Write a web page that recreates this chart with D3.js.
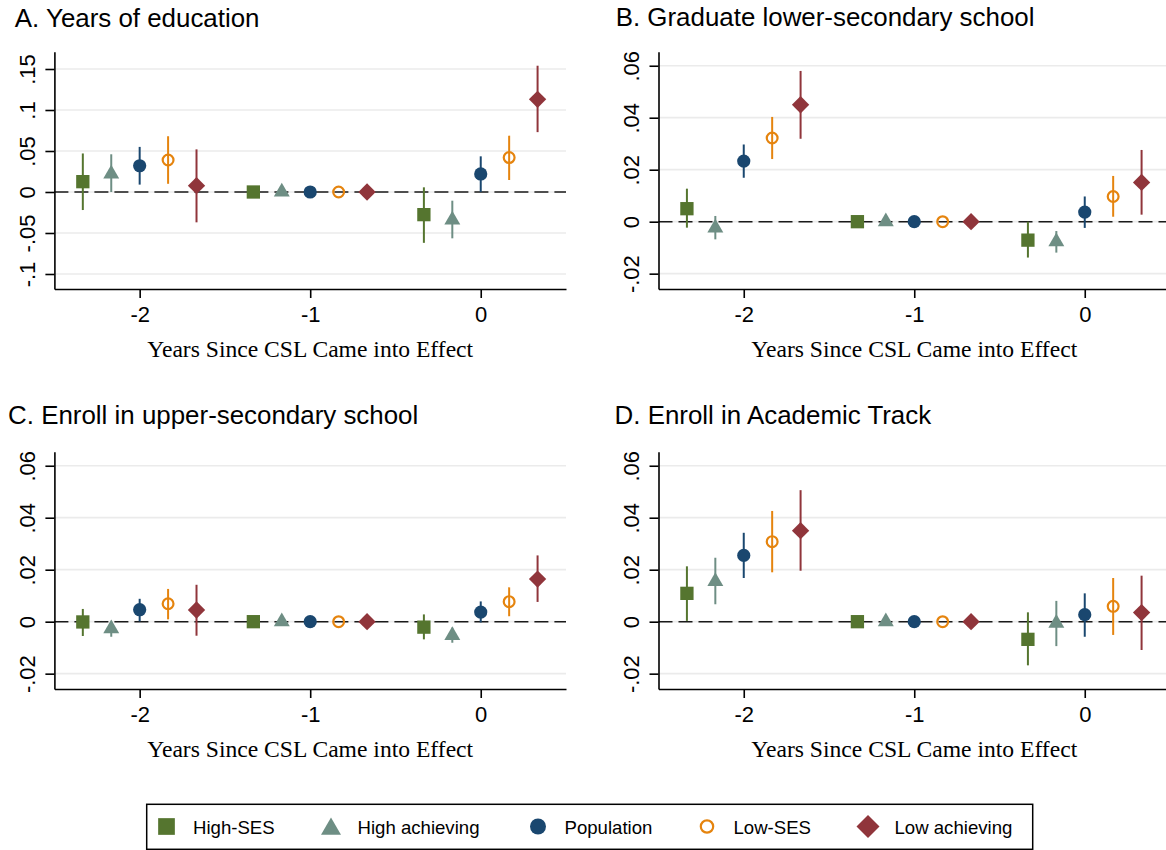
<!DOCTYPE html>
<html>
<head>
<meta charset="utf-8">
<script src="https://cdn.jsdelivr.net/npm/d3@7"></script>
<style>
body { margin: 0; background: #fff; }
svg { display: block; font-family: "Liberation Sans", Arial, Helvetica, sans-serif; }
</style>
</head>
<body>
<svg width="1166" height="850"></svg>
<script>
const svg = d3.select("svg");

const width = 1166;
const height = 850;

// groups in legend order, years on the x axis
const groups = ["High-SES", "High achieving", "Population", "Low-SES", "Low achieving"];
const years = [-2, -1, 0];

const panelTitles = [
    "A. Years of education",
    "B. Graduate lower-secondary school",
    "C. Enroll in upper-secondary school",
    "D. Enroll in Academic Track",
];
const axisTitle = "Years Since CSL Came into Effect";
const xTicks = [-2, -1, 0];
const yTicksA = [-0.1, -0.05, 0, 0.05, 0.1, 0.15];
const yTicksBCD = [-0.02, 0, 0.02, 0.04, 0.06];

// one row per group, one column per year (-2, -1, 0); -1 is the reference year
const eduEst = [[0.0126, 0, -0.0276], [0.022, 0, -0.034], [0.032, 0, 0.022], [0.039, 0, 0.042], [0.0077, 0, 0.113]];
const eduLo  = [[-0.022, null, -0.062], [0.0, null, -0.0565], [0.009, null, 0.0], [0.010, null, 0.0146], [-0.037, null, 0.073]];
const eduHi  = [[0.047, null, 0.0057], [0.046, null, -0.0106], [0.055, null, 0.0435], [0.068, null, 0.0687], [0.052, null, 0.154]];

const gradEst = [[0.005, 0, -0.0071], [-0.0024, 0, -0.0077], [0.0233, 0, 0.0037], [0.0322, 0, 0.0097], [0.045, 0, 0.0151]];
const gradLo  = [[-0.0023, null, -0.0138], [-0.0068, null, -0.0119], [0.0169, null, -0.0024], [0.0241, null, 0.0019], [0.0319, null, 0.0027]];
const gradHi  = [[0.0127, null, 0.0], [0.0022, null, -0.0036], [0.0297, null, 0.0097], [0.0403, null, 0.0176], [0.058, null, 0.0276]];

const uppEst = [[-0.0001, 0, -0.0021], [-0.0027, 0, -0.0053], [0.0046, 0, 0.0037], [0.0069, 0, 0.0077], [0.0045, 0, 0.0164]];
const uppLo  = [[-0.0055, null, -0.0068], [-0.0058, null, -0.0081], [0.0001, null, -0.0003], [0.0009, null, 0.0021], [-0.0054, null, 0.0076]];
const uppHi  = [[0.0049, null, 0.0028], [0.0001, null, -0.0023], [0.0088, null, 0.0078], [0.0126, null, 0.0132], [0.0142, null, 0.0255]];

const acadEst = [[0.0109, 0, -0.0068], [0.0155, 0, -0.0006], [0.0255, 0, 0.0027], [0.0308, 0, 0.0059], [0.035, 0, 0.0035]];
const acadLo  = [[0.0003, null, -0.0168], [0.0067, null, -0.0094], [0.0168, null, -0.0058], [0.019, null, -0.0051], [0.0196, null, -0.0109]];
const acadHi  = [[0.0213, null, 0.0036], [0.0246, null, 0.008], [0.0342, null, 0.0109], [0.0426, null, 0.0168], [0.0506, null, 0.0177]];

// styling
const colors = ["#55752f", "#6e8e84", "#1a476f", "#e5840e", "#90353b"];
const shapes = ["square", "triangle", "circle", "hollow", "diamond"];
const dodge = [-1 / 3, -1 / 6, 0, 1 / 6, 1 / 3];

const frames = [
    { left: 54.4, right: 566, top: 51.7, bottom: 289, titleX: 14.8, titleY: 26.7, yDomain: [-0.1183, 0.1711] },
    { left: 658.5, right: 1170, top: 51.7, bottom: 289, titleX: 615.7, titleY: 26.2, yDomain: [-0.0259, 0.0654] },
    { left: 54.4, right: 566, top: 451.7, bottom: 689, titleX: 8.1, titleY: 424.3, yDomain: [-0.0259, 0.0654] },
    { left: 658.5, right: 1170, top: 451.7, bottom: 689, titleX: 614.6, titleY: 424.3, yDomain: [-0.0259, 0.0654] },
];

const panels = [
    { est: eduEst, lo: eduLo, hi: eduHi, ticks: yTicksA },
    { est: gradEst, lo: gradLo, hi: gradHi, ticks: yTicksBCD },
    { est: uppEst, lo: uppLo, hi: uppHi, ticks: yTicksBCD },
    { est: acadEst, lo: acadLo, hi: acadHi, ticks: yTicksBCD },
];

// plain hyphen minus, no leading zero (Stata style)
const tickFmt = d => d === 0 ? "0" : String(+d.toFixed(3)).replace("0.", ".");

// marker sizes: plot and legend
const plotSizes = { square: 177, triangle: 110, circle: 137, diamond: 150, hollow: 5.4 };
const legendSizes = { square: 279, triangle: 173, circle: 201, diamond: 265, hollow: 6.2 };

function addMarker(g, shape, color, sizes, x, y) {
    if (shape === "hollow") {
        g.append("circle")
            .attr("cx", x)
            .attr("cy", y)
            .attr("r", sizes.hollow)
            .attr("fill", "none")
            .attr("stroke", color)
            .attr("stroke-width", 2.2);
        return;
    }
    const type = shape === "triangle" ? d3.symbolTriangle : shape === "circle" ? d3.symbolCircle : d3.symbolSquare;
    g.append("path")
        .attr("d", d3.symbol().type(type).size(sizes[shape])())
        .attr("transform", `translate(${x},${y})` + (shape === "diamond" ? " rotate(45)" : ""))
        .attr("fill", color);
}

panels.forEach((panel, p) => {
    const f = frames[p];
    const g = svg.append("g");

    const x = d3.scaleLinear().domain([-2.5, 0.5]).range([f.left, f.right]);
    const y = d3.scaleLinear().domain(f.yDomain).range([f.bottom, f.top]);

    g.append("text")
        .attr("x", f.titleX)
        .attr("y", f.titleY)
        .attr("font-size", 25.9)
        .attr("fill", "#000")
        .text(panelTitles[p]);

    // grid
    g.selectAll("line.grid")
        .data(panel.ticks)
        .enter()
        .append("line")
        .attr("x1", f.left)
        .attr("x2", f.right)
        .attr("y1", d => y(d))
        .attr("y2", d => y(d))
        .attr("stroke", "#ebebeb")
        .attr("stroke-width", 1.7);

    // reference line at zero
    g.append("line")
        .attr("x1", f.left)
        .attr("x2", f.right)
        .attr("y1", y(0))
        .attr("y2", y(0))
        .attr("stroke", "#1a1a1a")
        .attr("stroke-width", 1.4)
        .attr("stroke-dasharray", "14,6");

    const rows = [];
    groups.forEach((name, gi) => {
        years.forEach((yr, yi) => {
            rows.push({
                gi: gi,
                x: yr + dodge[gi],
                est: panel.est[gi][yi],
                lo: panel.lo[gi][yi],
                hi: panel.hi[gi][yi],
            });
        });
    });

    g.selectAll("line.ci")
        .data(rows.filter(d => d.lo !== null))
        .enter()
        .append("line")
        .attr("x1", d => x(d.x))
        .attr("x2", d => x(d.x))
        .attr("y1", d => y(d.lo))
        .attr("y2", d => y(d.hi))
        .attr("stroke", d => colors[d.gi])
        .attr("stroke-width", 2);

    rows.forEach(d => addMarker(g, shapes[d.gi], colors[d.gi], plotSizes, x(d.x), y(d.est)));

    // axes
    const yAxis = g.append("g")
        .attr("transform", `translate(${f.left},0)`)
        .call(d3.axisLeft(y).tickValues(panel.ticks).tickFormat(tickFmt).tickSize(9).tickSizeOuter(0));
    yAxis.selectAll(".tick text")
        .attr("x", null)
        .attr("dy", null)
        .attr("text-anchor", "middle")
        .attr("font-size", 22)
        .attr("transform", "translate(-19.4,0) rotate(-90)");

    const xAxis = g.append("g")
        .attr("transform", `translate(0,${f.bottom})`)
        .call(d3.axisBottom(x).tickValues(xTicks).tickFormat(d => String(d)).tickSize(9).tickSizeOuter(0));
    xAxis.selectAll(".tick text")
        .attr("y", 33)
        .attr("dy", null)
        .attr("font-size", 22);

    [yAxis, xAxis].forEach(a => {
        a.attr("font-family", null);
        a.selectAll("path, line").attr("stroke", "#000").attr("stroke-width", 1.6);
        a.selectAll("text").attr("fill", "#000");
    });

    g.append("text")
        .attr("x", (f.left + f.right) / 2)
        .attr("y", f.bottom + 68)
        .attr("text-anchor", "middle")
        .attr("font-family", "'Liberation Serif', 'Times New Roman', serif")
        .attr("font-size", 23.6)
        .text(axisTitle);
});

// legend
const legendX = [166.5, 331, 538, 707, 868];
const legend = svg.append("g");

legend.append("rect")
    .attr("x", 146.7)
    .attr("y", 804.3)
    .attr("width", 886)
    .attr("height", 45)
    .attr("fill", "#fff")
    .attr("stroke", "#000")
    .attr("stroke-width", 1.5);

groups.forEach((name, i) => {
    const cy = shapes[i] === "triangle" ? 829 : 826.5;
    addMarker(legend, shapes[i], colors[i], legendSizes, legendX[i], cy);
    legend.append("text")
        .attr("x", legendX[i] + 26.5)
        .attr("y", 834.3)
        .attr("font-size", 18.6)
        .attr("fill", "#000")
        .text(name);
});
</script>
</body>
</html>
